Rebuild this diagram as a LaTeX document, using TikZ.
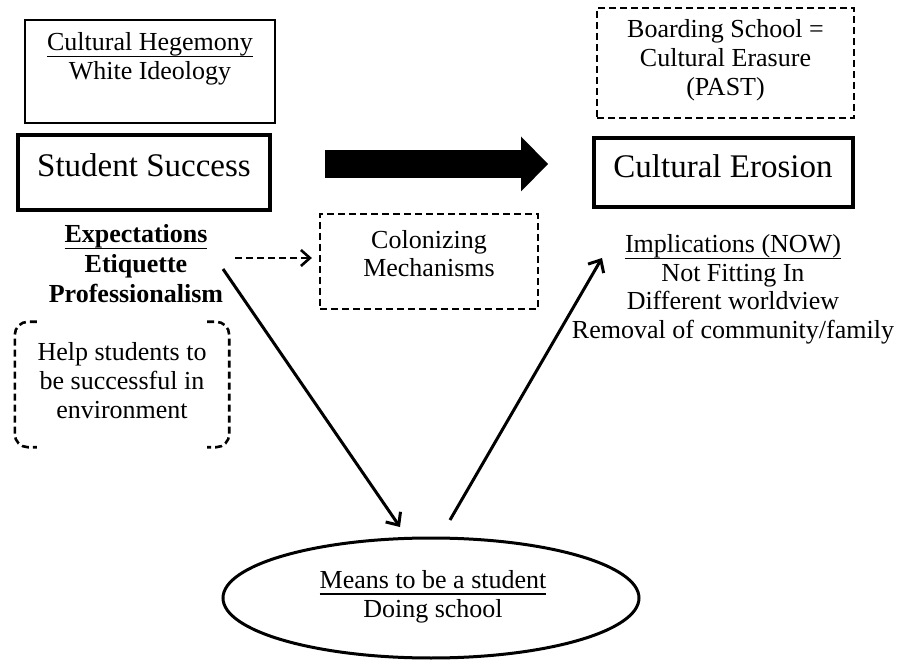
\documentclass[tikz,border=0pt]{standalone}
\usepackage{fontspec}
\setmainfont{Liberation Serif}
\usetikzlibrary{arrows.meta,shapes.geometric}

% fixed-offset underline, independent of descenders
\newsavebox\ulbox
\newcommand\ulfix[1]{\sbox\ulbox{#1}\rlap{\rule[-6.5pt]{\wd\ulbox}{1.2pt}}\usebox\ulbox}
% centred lines whose baseline is that of the first line
\newcommand\stack[1]{\begin{tabular}[t]{@{}c@{}}#1\end{tabular}}

\tikzset{
  txt/.style={inner sep=0pt, anchor=base, font=\fontsize{26}{29}\selectfont},
  bigtxt/.style={inner sep=0pt, anchor=base, font=\fontsize{33}{38}\selectfont},
  frame/.style={inner sep=0pt, rectangle},
  thinbox/.style={frame, draw, line width=1.5pt},
  thickbox/.style={frame, draw, line width=4pt},
  dashbox/.style={frame, draw, line width=2.2pt, dash pattern=on 7pt off 4pt},
  dashline/.style={line width=2.6pt, dash pattern=on 7pt off 4pt},
  thinarrow/.style={line width=3pt, -{Straight Barb[length=10pt,width=18pt]}},
  dasharrow/.style={line width=2.6pt, dash pattern=on 7pt off 4pt, -{Straight Barb[length=9pt,width=16pt]}},
  bigarrow/.style={line width=28pt, -{Triangle[length=27pt,width=55pt,line width=0pt]}},
}

\begin{document}
\begin{tikzpicture}[x=1pt, y=-1pt]
\useasboundingbox (0,0) rectangle (898,663);

% --- left column ---
\node[thinbox, minimum width=250pt, minimum height=103pt] (heg) at (150,71.5) {};
\node[txt] (hegt) at (150,51) {\stack{\ulfix{Cultural Hegemony}\\White Ideology}};

\node[thickbox, minimum width=252pt, minimum height=75pt] (ss) at (144,172.5) {};
\node[bigtxt] (sst) at (144,177) {Student Success};

\node[txt, font=\fontsize{26}{30}\selectfont\bfseries] (exp) at (136,243)
  {\stack{\ulfix{Expectations}\\Etiquette\\Professionalism}};

\node[frame, minimum width=214pt, minimum height=125pt] (helpbox) at (122,384.5) {};
\draw[dashline, rounded corners=13pt]
  ([xshift=22pt]helpbox.north west) -- (helpbox.north west) -- (helpbox.south west) -- ([xshift=22pt]helpbox.south west);
\draw[dashline, rounded corners=13pt]
  ([xshift=-22pt]helpbox.north east) -- (helpbox.north east) -- (helpbox.south east) -- ([xshift=-22pt]helpbox.south east);
\node[txt] (helpt) at (122,361) {\stack{Help students to\\be successful in\\environment}};

% --- middle ---
\node[dashbox, minimum width=218pt, minimum height=95pt] (col) at (429,261.5) {};
\node[txt, font=\fontsize{26}{28}\selectfont] (colt) at (429,249) {\stack{Colonizing\\Mechanisms}};

\node[ellipse, draw, line width=3pt, inner sep=0pt, minimum width=416pt, minimum height=120pt] (ell) at (431,598) {};
\node[txt] (ellt) at (433,588) {\stack{\ulfix{Means to be a student}\\Doing school}};

% --- right column ---
\node[dashbox, minimum width=257pt, minimum height=110pt] (board) at (725.5,63) {};
\node[txt] (boardt) at (725.5,38) {\stack{Boarding School =\\Cultural Erasure\\(PAST)}};

\node[thickbox, minimum width=259pt, minimum height=69pt] (ce) at (723.5,172.5) {};
\node[bigtxt] (cet) at (723,178) {Cultural Erosion};

\node[txt, font=\fontsize{26}{28.5}\selectfont] (impl) at (733,253)
  {\stack{\ulfix{Implications (NOW)}\\Not Fitting In\\Different worldview\\Removal of community/family}};

% --- connectors ---
\coordinate (axis) at (0,164);
\draw[bigarrow, shorten <=53pt, shorten >=44pt] (ss.east |- axis) -- (ce.west |- axis);

\coordinate (dstart) at (235,258);
\draw[dasharrow, shorten >=7pt] (dstart) -- (col.west |- dstart);

\coordinate (downs) at (223,269);
\coordinate (downe) at (400,527);
\draw[thinarrow] (downs) -- (downe);

\coordinate (ups) at (450,520);
\coordinate (upe) at (602,258);
\draw[thinarrow] (ups) -- (upe);
\end{tikzpicture}
\end{document}
